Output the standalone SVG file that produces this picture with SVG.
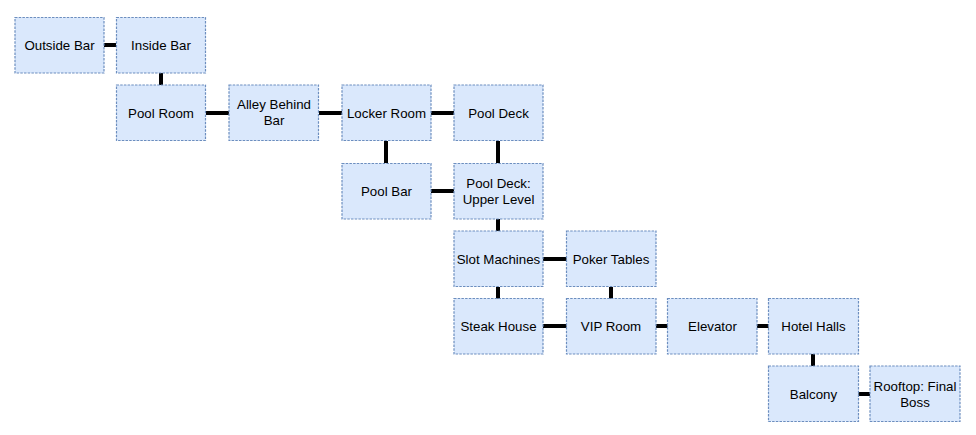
<svg xmlns="http://www.w3.org/2000/svg" width="976" height="435" viewBox="0 0 976 435">
<style>
.n rect{fill:#dae8fc;stroke:#6c8ebf;stroke-width:1.2;stroke-dasharray:2.5 1.2}
.n text{font-family:"Liberation Sans",Arial,sans-serif;font-size:13.3px;fill:#000;text-anchor:middle}
#edges line{stroke:#000;stroke-width:4}
</style>
<rect width="976" height="435" fill="#fff"/>
<g id="edges">
<line x1="104" y1="45" x2="116" y2="45"/>
<line x1="161" y1="73" x2="161" y2="85"/>
<line x1="206" y1="113" x2="229" y2="113"/>
<line x1="319" y1="113" x2="342" y2="113"/>
<line x1="431" y1="113" x2="454" y2="113"/>
<line x1="386" y1="141" x2="386" y2="163"/>
<line x1="498" y1="141" x2="498" y2="163"/>
<line x1="431" y1="191" x2="454" y2="191"/>
<line x1="498" y1="219" x2="498" y2="231"/>
<line x1="543" y1="259" x2="567" y2="259"/>
<line x1="498" y1="287" x2="498" y2="299"/>
<line x1="611" y1="287" x2="611" y2="299"/>
<line x1="543" y1="326" x2="567" y2="326"/>
<line x1="656" y1="326" x2="668" y2="326"/>
<line x1="757" y1="326" x2="769" y2="326"/>
<line x1="813" y1="354" x2="813" y2="366"/>
<line x1="858" y1="394" x2="870" y2="394"/>
</g>
<g id="outside-bar" class="n"><rect x="15" y="17.5" width="89" height="55.5"/><text x="59.5" y="50">Outside Bar</text></g>
<g id="inside-bar" class="n"><rect x="116.5" y="17.5" width="89" height="55.5"/><text x="161" y="50">Inside Bar</text></g>
<g id="pool-room" class="n"><rect x="116.5" y="85" width="89" height="55.5"/><text x="161" y="117.5">Pool Room</text></g>
<g id="alley-behind-bar" class="n"><rect x="229" y="85" width="89.5" height="55.5"/><text x="274" y="109">Alley Behind</text><text x="274" y="125">Bar</text></g>
<g id="locker-room" class="n"><rect x="342" y="85" width="89" height="55.5"/><text x="386.5" y="117.5">Locker Room</text></g>
<g id="pool-deck" class="n"><rect x="454" y="85" width="89" height="55.5"/><text x="498.5" y="117.5">Pool Deck</text></g>
<g id="pool-bar" class="n"><rect x="342" y="163.5" width="89" height="55.5"/><text x="386.5" y="195.5">Pool Bar</text></g>
<g id="pool-deck-upper" class="n"><rect x="454" y="163.5" width="89" height="55.5"/><text x="498.5" y="187.5">Pool Deck:</text><text x="498.5" y="203.5">Upper Level</text></g>
<g id="slot-machines" class="n"><rect x="454" y="231" width="89" height="55.5"/><text x="498.5" y="263.5">Slot Machines</text></g>
<g id="poker-tables" class="n"><rect x="566.5" y="231" width="89.5" height="55.5"/><text x="611" y="263.5">Poker Tables</text></g>
<g id="steak-house" class="n"><rect x="454" y="298.5" width="89" height="55.5"/><text x="498.5" y="331">Steak House</text></g>
<g id="vip-room" class="n"><rect x="566.5" y="298.5" width="89.5" height="55.5"/><text x="611" y="331">VIP Room</text></g>
<g id="elevator" class="n"><rect x="667.5" y="298.5" width="89.5" height="55.5"/><text x="712.5" y="331">Elevator</text></g>
<g id="hotel-halls" class="n"><rect x="768.5" y="298.5" width="90" height="55.5"/><text x="813.5" y="331">Hotel Halls</text></g>
<g id="balcony" class="n"><rect x="768.5" y="366" width="90" height="55.5"/><text x="813.5" y="398.5">Balcony</text></g>
<g id="rooftop" class="n"><rect x="870" y="366" width="90" height="55.5"/><text x="915" y="390.5">Rooftop: Final</text><text x="915" y="406.5">Boss</text></g>
</svg>
